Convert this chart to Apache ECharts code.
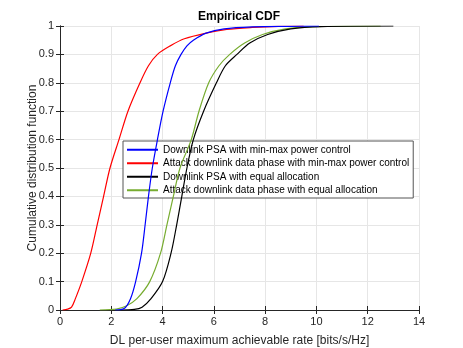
<!DOCTYPE html>
<html>
<head>
<meta charset="utf-8">
<script src="https://cdn.jsdelivr.net/npm/echarts@6/dist/echarts.min.js"></script>
<style>
  html, body { margin: 0; padding: 0; background: #fff; }
  #chart { width: 463px; height: 348px; }
</style>
</head>
<body>
<div id="chart"></div>
<script>
  'use strict'

  // series names
  var names = [
    'Downlink PSA with min-max power control',
    'Attack downlink data phase with min-max power control',
    'Downlink PSA with equal allocation',
    'Attack downlink data phase with equal allocation'
  ]
  var colors = ['#0000ff', '#ff0000', '#000000', '#77ac30']

  // rate values and cdf values
  var blueX = [2.15, 2.5, 2.75, 2.95, 3.18, 3.32, 3.45, 3.6, 3.8, 4.02, 4.3, 4.5, 4.72, 4.95, 5.2, 5.7, 6.4, 7.5, 9.0, 10.1]
  var blueY = [0, 0.005, 0.04, 0.1, 0.2, 0.3, 0.4, 0.5, 0.6, 0.7, 0.8, 0.86, 0.9, 0.93, 0.95, 0.975, 0.99, 0.997, 0.999, 1]

  var redX = [0.1, 0.3, 0.45, 0.6, 0.85, 1.2, 1.45, 1.7, 1.95, 2.3, 2.65, 3.12, 3.45, 3.8, 4.3, 4.85, 5.7, 6.5, 7.5, 8.5, 9.5]
  var redY = [0, 0.003, 0.01, 0.04, 0.1, 0.2, 0.3, 0.4, 0.5, 0.6, 0.7, 0.8, 0.86, 0.9, 0.93, 0.955, 0.975, 0.988, 0.995, 0.999, 1]

  var blackX = [2.35, 2.9, 3.2, 3.55, 4.0, 4.33, 4.55, 4.75, 4.95, 5.2, 5.6, 6.1, 6.45, 6.9, 7.4, 8.1, 9.0, 10.2, 13.0]
  var blackY = [0, 0.002, 0.01, 0.04, 0.1, 0.2, 0.3, 0.4, 0.5, 0.6, 0.7, 0.8, 0.86, 0.9, 0.94, 0.97, 0.99, 0.998, 1]

  var greenX = [1.55, 2.2, 2.6, 3.0, 3.5, 3.92, 4.17, 4.42, 4.68, 5.12, 5.42, 5.8, 6.2, 6.62, 7.2, 7.9, 8.8, 10.0, 12.5]
  var greenY = [0, 0.003, 0.015, 0.04, 0.1, 0.2, 0.3, 0.4, 0.5, 0.6, 0.7, 0.8, 0.86, 0.9, 0.94, 0.97, 0.99, 0.998, 1]

  var xTicks = [0, 2, 4, 6, 8, 10, 12, 14]
  var yTicks = [0, 0.1, 0.2, 0.3, 0.4, 0.5, 0.6, 0.7, 0.8, 0.9, 1]

  function pairs (xs, ys) {
    var out = []
    for (var i = 0; i < xs.length; i++) {
      out.push([xs[i], ys[i]])
    }
    return out
  }

  var allX = [blueX, redX, blackX, greenX]
  var allY = [blueY, redY, blackY, greenY]

  var font = '"Liberation Sans", Arial, Helvetica, sans-serif'
  var axisColor = '#262626'

  function axisBase (extra) {
    var a = {
      type: 'value',
      axisLine: { show: true, lineStyle: { color: axisColor, width: 1 } },
      axisTick: { show: true, inside: true, length: 4, lineStyle: { color: axisColor } },
      axisLabel: { color: axisColor, fontFamily: font, fontSize: 11 },
      splitLine: { show: false }
    }
    for (var k in extra) a[k] = extra[k]
    return a
  }

  var series = names.map(function (name, i) {
    return {
      name: name,
      type: 'line',
      data: pairs(allX[i], allY[i]),
      showSymbol: false,
      symbol: 'none',
      smooth: 0.3,
      lineStyle: { color: colors[i], width: 1.2 },
      itemStyle: { color: colors[i] },
      z: 10 - i
    }
  })

  var myChart = echarts.init(document.getElementById('chart'), null, { renderer: 'canvas' })

  myChart.setOption({
    animation: false,
    backgroundColor: '#ffffff',
    title: {
      text: 'Empirical CDF',
      left: 239,
      textAlign: 'center',
      top: 11,
      padding: 0,
      textStyle: { fontFamily: font, fontSize: 12, fontWeight: 'bold', color: '#000' }
    },
    grid: { left: 60, right: 44, top: 26, bottom: 38, outerBoundsMode: 'none', containLabel: false },
    legend: {
      data: names,
      orient: 'vertical',
      left: 123,
      top: 141,
      padding: [2, 4, 1, 4],
      itemGap: 0,
      itemWidth: 31,
      itemHeight: 2,
      icon: 'rect',
      backgroundColor: '#ffffff',
      borderColor: '#555555',
      borderWidth: 1,
      textStyle: { fontFamily: font, fontSize: 10, lineHeight: 13.5, color: '#000' }
    },
    xAxis: [
      axisBase({
        min: 0,
        max: 14,
        interval: 2,
        name: 'DL per-user maximum achievable rate [bits/s/Hz]',
        nameLocation: 'middle',
        nameGap: 25,
        nameMoveOverlap: false,
        nameTextStyle: { fontFamily: font, fontSize: 12, color: axisColor },
        axisLabel: { color: axisColor, fontFamily: font, fontSize: 11, margin: 6 },
        splitLine: { show: true, lineStyle: { color: '#e6e6e6', width: 1 } }
      }),
      axisBase({
        min: 0,
        max: 14,
        interval: 2,
        position: 'top',
        axisLabel: { show: false }
      })
    ],
    yAxis: [
      axisBase({
        min: 0,
        max: 1,
        interval: 0.1,
        name: 'Cumulative distribution function',
        nameLocation: 'middle',
        nameGap: 21,
        nameMoveOverlap: false,
        nameTextStyle: { fontFamily: font, fontSize: 12, color: axisColor },
        axisLabel: {
          color: axisColor,
          fontFamily: font,
          fontSize: 11,
          margin: 6,
          formatter: function (v) {
            var r = Math.round(v * 10) / 10
            return yTicks.indexOf(r) >= 0 ? String(r) : ''
          }
        },
        splitLine: { show: true, lineStyle: { color: '#e6e6e6', width: 1 } }
      }),
      axisBase({
        min: 0,
        max: 1,
        interval: 0.1,
        position: 'right',
        axisLabel: { show: false }
      })
    ],
    series: series
  })
</script>
</body>
</html>
